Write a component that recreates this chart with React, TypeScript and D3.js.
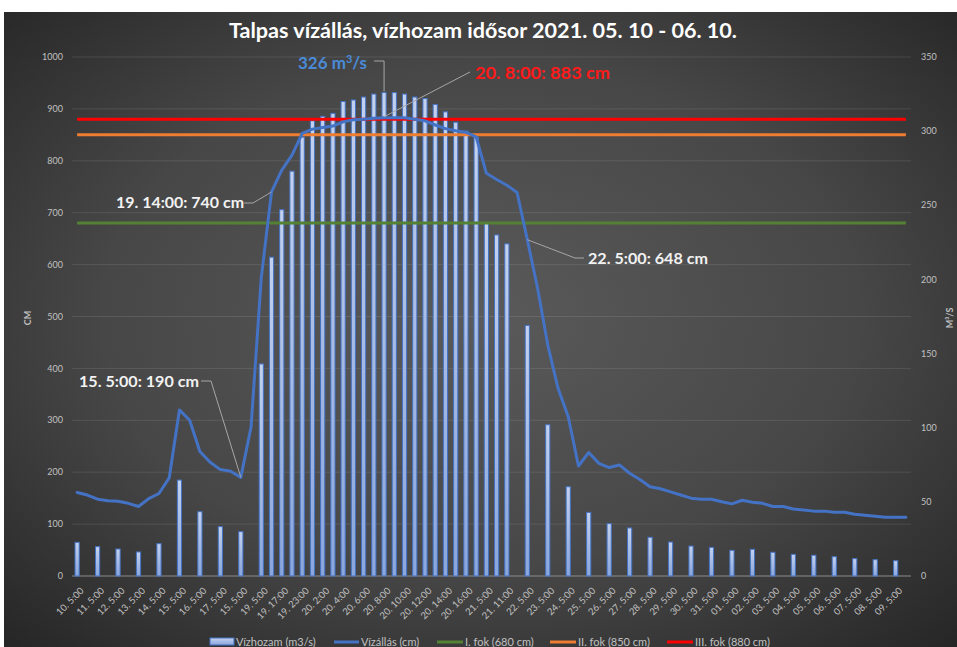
import React from 'react';
import * as d3 from 'd3';

const categories = [
  '10. 5:00', '10. 17:00', '11. 5:00', '11. 17:00', '12. 5:00', '12. 17:00', '13. 5:00', '13. 17:00',
  '14. 5:00', '14. 17:00', '15. 5:00', '15. 17:00', '16. 5:00', '16. 17:00', '17. 5:00', '17. 17:00',
  '15. 5:00', '18. 17:00', '19. 5:00', '19. 14:00', '19. 17:00', '19. 20:00', '19. 23:00', '20. 0:00',
  '20. 2:00', '20. 3:00', '20. 4:00', '20. 5:00', '20. 6:00', '20. 7:00', '20. 8:00', '20. 9:00',
  '20. 10:00', '20. 11:00', '20. 12:00', '20. 13:00', '20. 14:00', '20. 15:00', '20. 16:00', '20. 20:00',
  '21. 5:00', '21. 8:00', '21. 11:00', '21. 17:00', '22. 5:00', '22. 17:00', '23. 5:00', '23. 17:00',
  '24. 5:00', '24. 17:00', '25. 5:00', '25. 17:00', '26. 5:00', '26. 17:00', '27. 5:00', '27. 17:00',
  '28. 5:00', '28. 17:00', '29. 5:00', '29. 17:00', '30. 5:00', '30. 17:00', '31. 5:00', '31. 17:00',
  '01. 5:00', '01. 17:00', '02. 5:00', '02. 17:00', '03. 5:00', '03. 17:00', '04. 5:00', '04. 17:00',
  '05. 5:00', '05. 17:00', '06. 5:00', '06. 17:00', '07. 5:00', '07. 17:00', '08. 5:00', '08. 17:00',
  '09. 5:00', '09. 17:00',
];

// Vízhozam (m3/s) – bars on right axis
const flow: (number | null)[] = [
  22.7, null, 19.8, null, 18.2, null, 16.2, null, 21.8, null, 64.7, null, 43.4, null, 33.3, null,
  29.9, null, 143, 215, 247, 273, 296, 307, 310, 312, 320, 321, 323, 325, 326, 326,
  325, 323, 322, 318, 313, 306, 300, 296, 238, 230, 224, null, 169, null, 102, null,
  60.2, null, 42.9, null, 35.3, null, 32.4, null, 26.1, null, 22.9, null, 20.2, null, 19.3, null,
  17.3, null, 18, null, 16, null, 14.6, null, 14, null, 13, null, 11.7, null, 11, null,
  10.3, null,
];

// Vízállás (cm) – line on left axis
const level = [
  161, 156, 148, 145, 144, 140, 134, 149, 159, 189, 320, 300, 240, 219, 205, 202,
  190, 287, 575, 740, 782, 811, 853, 861, 864, 867, 875, 879, 880, 882, 883, 883,
  883, 880, 877, 869, 862, 858, 855, 846, 776, 764, 753, 739, 648, 555, 445, 362,
  307, 212, 238, 217, 209, 214, 198, 186, 172, 168, 162, 156, 150, 148, 148, 143,
  139, 146, 142, 140, 134, 134, 129, 127, 125, 125, 123, 123, 119, 117, 115, 113,
  113, 113,
];

const thresholdNames = ['I. fok (680 cm)', 'II. fok (850 cm)', 'III. fok (880 cm)'];
const thresholdValues = [680, 850, 880];
const thresholdColors = ['#548235', '#ed7d31', '#ff0000'];

const leftTicks = [0, 100, 200, 300, 400, 500, 600, 700, 800, 900, 1000];
const rightTicks = [0, 50, 100, 150, 200, 250, 300, 350];

const W = 957;
const H = 647;
const M = { left: 72, right: 911, top: 57, bottom: 576 };
const FONT = 'Lato, "Open Sans", sans-serif';
const GRAY = '#c0c0c0';

export default function App() {
  const x = d3.scaleBand<number>().domain(d3.range(categories.length)).range([M.left, M.right]).padding(0);
  const bw = x.bandwidth();
  const cx = (i: number) => (x(i) as number) + bw / 2;
  const yL = d3.scaleLinear().domain([0, 1000]).range([M.bottom, M.top]);
  const yR = d3.scaleLinear().domain([0, 350]).range([M.bottom, M.top]);

  const linePath = d3.line<number>().x((_, i) => cx(i)).y((d) => yL(d))(level) || '';
  const barW = 4.2;

  const p19 = [cx(19), yL(level[19])];
  const p16 = [cx(16), yL(level[16])];
  const p30 = [cx(30), yL(level[30])];
  const p44 = [cx(44), yL(level[44])];
  const b30 = [cx(30), yR(flow[30] as number)];

  return (
    <svg width={W} height={H} style={{ position: 'absolute', left: 0, top: 0 }} fontFamily={FONT}>
      <defs>
        <radialGradient id="bg" cx="50%" cy="48%" r="72%">
          <stop offset="0%" stopColor="#5a5a5a" />
          <stop offset="55%" stopColor="#474747" />
          <stop offset="100%" stopColor="#262626" />
        </radialGradient>
        <linearGradient id="barfill" x1="0" y1="0" x2="0" y2="1">
          <stop offset="0%" stopColor="#c3d1ee" />
          <stop offset="100%" stopColor="#8aa6dc" />
        </linearGradient>
      </defs>
      <rect x={0} y={0} width={W} height={H} fill="#ffffff" />
      <rect x={4} y={12} width={W - 4} height={H - 12} fill="url(#bg)" />

      <text x={483} y={38} textAnchor="middle" fill="#ffffff" fontSize={20} fontWeight="bold"
        textLength={508} lengthAdjust="spacingAndGlyphs">
        Talpas vízállás, vízhozam idősor 2021. 05. 10 - 06. 10.
      </text>

      {leftTicks.map((t) => (
        <line key={'g' + t} x1={M.left} x2={M.right} y1={yL(t)} y2={yL(t)}
          stroke={t === 0 ? '#8c8c8c' : '#ffffff'} strokeOpacity={t === 0 ? 1 : 0.1} strokeWidth={1} />
      ))}
      {leftTicks.map((t) => (
        <text key={'l' + t} x={63} y={yL(t)} dy="0.35em" textAnchor="end" fill={GRAY} fontSize={9}>{t}</text>
      ))}
      {rightTicks.map((t) => (
        <text key={'r' + t} x={921} y={yR(t)} dy="0.35em" textAnchor="start" fill={GRAY} fontSize={9}>{t}</text>
      ))}
      <text transform={`translate(31,318) rotate(-90)`} textAnchor="middle" fill={GRAY} fontSize={9} fontWeight="bold">CM</text>
      <text transform={`translate(953,318) rotate(-90)`} textAnchor="middle" fill={GRAY} fontSize={9} fontWeight="bold">M³/S</text>

      {flow.map((v, i) => v == null ? null : (
        <rect key={'b' + i} x={cx(i) - barW / 2} y={yR(v)} width={barW} height={M.bottom - yR(v)}
          fill="url(#barfill)" stroke="#4472c4" strokeWidth={1} />
      ))}

      {thresholdValues.map((t, k) => (
        <line key={'t' + k} x1={cx(0)} x2={cx(categories.length - 1)} y1={yL(t)} y2={yL(t)}
          stroke={thresholdColors[k]} strokeWidth={3} />
      ))}

      <path d={linePath} fill="none" stroke="#4472c4" strokeWidth={3} strokeLinejoin="round" strokeLinecap="round" />

      {categories.map((c, i) => i % 2 !== 0 ? null : (
        <text key={'x' + i} transform={`translate(${cx(i) + 5},${589}) rotate(-45)`} textAnchor="end" dy="0.35em"
          fill={GRAY} fontSize={9.5}>{c}</text>
      ))}

      {/* callouts */}
      <g stroke="#a6a6a6" strokeWidth={1} fill="none">
        <polyline points={`${b30[0] - 10},61 ${b30[0]},61 ${b30[0]},${b30[1] - 1}`} />
        <polyline points={`470,72 ${p30[0]},${p30[1] - 1}`} />
        <polyline points={`244,203 253,203 ${p19[0]},${p19[1]}`} />
        <polyline points={`201,381 211,381 ${p16[0]},${p16[1]}`} />
        <polyline points={`${p44[0]},${p44[1]} 575,258 584,258`} />
      </g>
      <text x={298} y={63} dy="0.35em" fill="#4a8bd8" fontSize={17} fontWeight="bold">
        326 m<tspan dy="-6" fontSize={11}>3</tspan><tspan dy="6">/s</tspan>
      </text>
      <text x={475} y={73} dy="0.35em" fill="#ff1a1a" fontSize={17.5} fontWeight="bold"
        textLength={135} lengthAdjust="spacingAndGlyphs">20. 8:00: 883 cm</text>
      <text x={116} y={202} dy="0.35em" fill="#f2f2f2" fontSize={16} fontWeight="bold"
        textLength={128} lengthAdjust="spacingAndGlyphs">19. 14:00: 740 cm</text>
      <text x={79} y={381} dy="0.35em" fill="#f2f2f2" fontSize={16} fontWeight="bold"
        textLength={120} lengthAdjust="spacingAndGlyphs">15. 5:00: 190 cm</text>
      <text x={588} y={258} dy="0.35em" fill="#f2f2f2" fontSize={16} fontWeight="bold"
        textLength={120} lengthAdjust="spacingAndGlyphs">22. 5:00: 648 cm</text>

      {/* legend */}
      <g fontSize={11} fill={GRAY}>
        <rect x={210} y={638} width={24} height={7} fill="url(#barfill)" stroke="#4472c4" strokeWidth={1} />
        <text x={236} y={642} dy="0.35em">Vízhozam (m3/s)</text>
        <line x1={334} x2={359} y1={642} y2={642} stroke="#4472c4" strokeWidth={3} />
        <text x={361} y={642} dy="0.35em">Vízállás (cm)</text>
        {thresholdNames.map((n, k) => {
          const lx = [437, 550, 667][k];
          return (
            <g key={'lg' + k}>
              <line x1={lx} x2={lx + 26} y1={642} y2={642} stroke={thresholdColors[k]} strokeWidth={3} />
              <text x={lx + 28} y={642} dy="0.35em">{n}</text>
            </g>
          );
        })}
      </g>
    </svg>
  );
}
